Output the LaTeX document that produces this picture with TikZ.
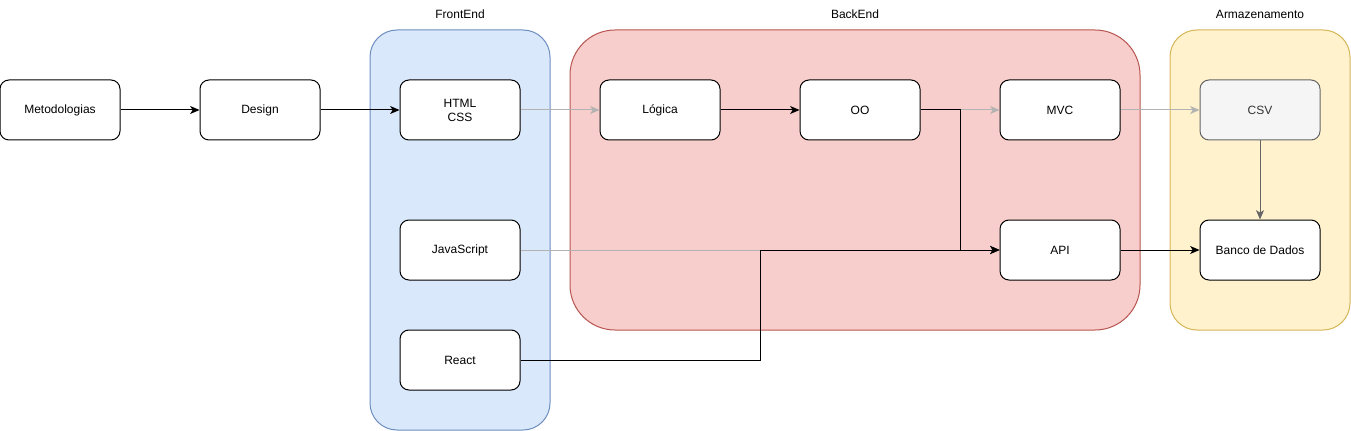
\documentclass[tikz,border=0pt]{standalone}
\usepackage{fontspec}
\setmainfont{Liberation Sans}
\usetikzlibrary{arrows.meta}
\definecolor{feFill}{HTML}{DAE8FC}\definecolor{feLine}{HTML}{6C8EBF}
\definecolor{beFill}{HTML}{F8CECC}\definecolor{beLine}{HTML}{B85450}
\definecolor{arFill}{HTML}{FFF2CC}\definecolor{arLine}{HTML}{D6B656}
\definecolor{lgray}{HTML}{B3B3B3}\definecolor{dgray}{HTML}{666666}
\definecolor{csvFill}{HTML}{F5F5F5}\definecolor{csvText}{HTML}{333333}
\tikzset{
  box/.style={draw=black, fill=white, line width=0.75pt, rounded corners=6.75pt,
    minimum width=90pt, minimum height=45pt, inner sep=0pt, align=center,
    font=\fontsize{9pt}{10.5pt}\selectfont},
  grp/.style={line width=0.75pt},
  lbl/.style={font=\fontsize{9pt}{10.5pt}\selectfont},
  conn/.style={line width=0.75pt, -{Stealth[length=7pt,width=6pt,inset=1.8pt]}},
}
\begin{document}
\begin{tikzpicture}[x=0.75pt,y=-0.75pt]
\useasboundingbox (0,0) rectangle (1351,431);
% groups
\draw[grp, draw=feLine, fill=feFill, rounded corners=20.25pt] (370,30) rectangle (550,430);
\draw[grp, draw=beLine, fill=beFill, rounded corners=33.75pt] (570,30) rectangle (1140,330);
\draw[grp, draw=arLine, fill=arFill, rounded corners=20.25pt] (1170,30) rectangle (1350,330);
\node[lbl] (tfe) at (460,14) {FrontEnd};
\node[lbl] (tbe) at (855,14) {BackEnd};
\node[lbl] (tar) at (1260,14) {Armazenamento};
% nodes
\node[box] (meto) at (60,110) {Metodologias};
\node[box] (design) at (260,110) {Design};
\node[box] (html) at (460,110) {HTML\\CSS};
\node[box] (js) at (460,250) {JavaScript};
\node[box] (react) at (460,360) {React};
\node[box] (logica) at (660,110) {Lógica};
\node[box] (oo) at (860,110) {OO};
\node[box] (mvc) at (1060,110) {MVC};
\node[box] (api) at (1060,250) {API};
\node[box, draw=dgray, fill=csvFill, text=csvText] (csv) at (1260,110) {CSV};
\node[box] (bd) at (1260,250) {Banco de Dados};
% connectors
\draw[conn] (meto) -- (design);
\draw[conn] (design) -- (html);
\draw[conn, draw=lgray, -{Stealth[length=7pt,width=6pt,inset=1.8pt,color=lgray]}] (html) -- (logica);
\draw[conn] (logica) -- (oo);
\draw[conn, draw=lgray] (oo) -- (mvc);
\draw[conn, draw=lgray] (mvc) -- (csv);
\draw[conn, draw=dgray] (csv) -- (bd);
\draw[conn, draw=lgray] (js) -- (api);
\draw[conn] (oo.east) -- ++(40,0) |- (api.west);
\draw[conn] (react.east) -- ++(240,0) |- (api.west);
\draw[conn] (api) -- (bd);
\end{tikzpicture}
\end{document}
